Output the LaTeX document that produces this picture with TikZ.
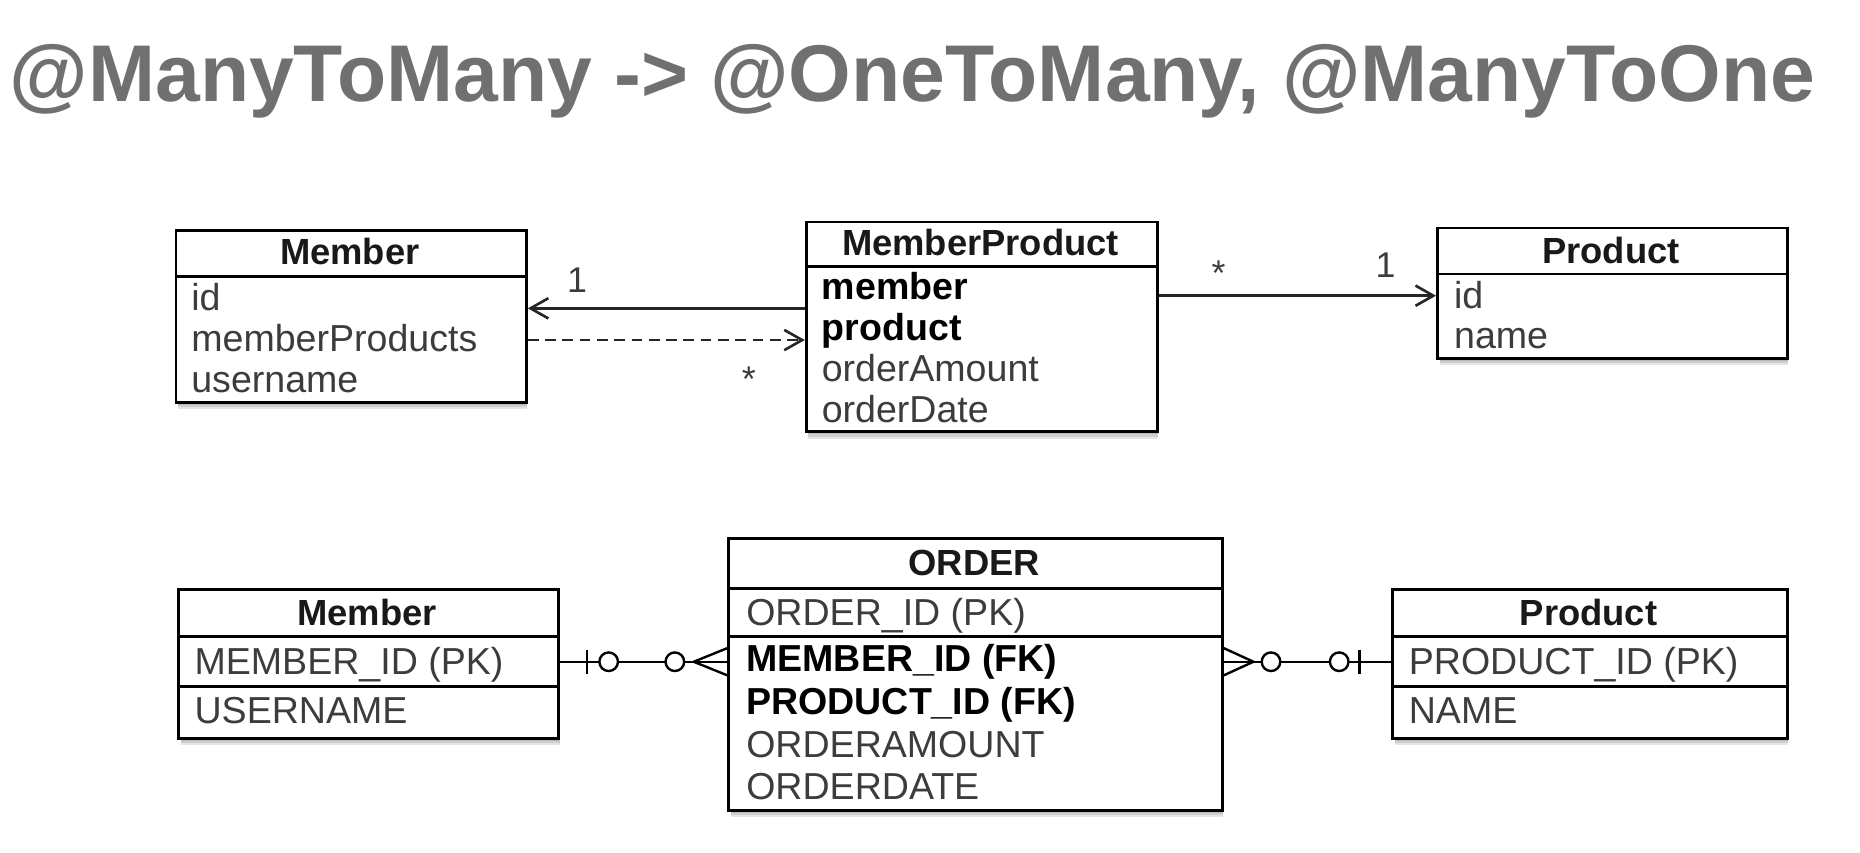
\documentclass[tikz,border=0pt]{standalone}
\usepackage{fontspec}
\setmainfont{Liberation Sans}
\usetikzlibrary{arrows.meta}
\definecolor{titlegray}{RGB}{112,112,112}
\definecolor{rowgray}{RGB}{60,60,60}
\newcommand{\softshadow}[4]{%
  \foreach \k in {1,2,3,4}{%
    \fill[black,opacity=0.1] (#1+3,#4-2) rectangle (#3+2,#4+1.7*\k);
  }}
\begin{document}
\begin{tikzpicture}[x=1pt,y=-1pt,
  box/.style={draw=black, line width=2.4pt, fill=white, inner sep=0pt, anchor=north west},
  divline/.style={draw=black, line width=2.4pt},
  hdr/.style={font=\bfseries\fontsize{30.5}{36}\selectfont, text=black!90, inner sep=0pt, anchor=base},
  row/.style={font=\fontsize{31.5}{36}\selectfont, text=rowgray, inner sep=0pt, anchor=base west},
  brow/.style={font=\bfseries\fontsize{31.5}{36}\selectfont, text=black, inner sep=0pt, anchor=base west},
  lbl/.style={font=\fontsize{30}{36}\selectfont, text=rowgray, inner sep=0pt},
  assoc/.style={draw=black!85, line width=2.2pt, -{Straight Barb[length=15pt,width=17pt]}},
  dep/.style={assoc, dash pattern=on 9pt off 5.5pt},
  er/.style={draw=black, line width=2pt},
  ercirc/.style={draw=black, line width=2pt, fill=white}
]
\useasboundingbox (0,0) rectangle (1560,714.6);

% title
\node[anchor=base west, inner sep=0pt, text=titlegray,
      font=\bfseries\fontsize{67.5}{70}\selectfont] (title) at (8,85.3)
      {@ManyToMany -> @OneToMany, @ManyToOne};

% shadows
\softshadow{146.4}{192.3}{440.3}{336.3}
\softshadow{675}{185}{969.5}{361}
\softshadow{1204.4}{190}{1498}{299.2}
\softshadow{148.4}{493.4}{467.4}{617.9}
\softshadow{610}{450.7}{1024}{678.8}
\softshadow{1166.7}{492.9}{1498}{618}

% ---------- top: classes ----------
\node[box, minimum width=293.9pt, minimum height=144pt] (m1) at (146.4,192.3) {};
\draw[divline] (m1.west |- 0,232) -- (m1.east |- 0,232);
\node[hdr] (m1h) at (293.4,222) {Member};
\node[row] (m1r1) at (160.3,260) {id};
\node[row] (m1r2) at (160.3,294.5) {memberProducts};
\node[row] (m1r3) at (160.3,329) {username};

\node[box, minimum width=294.5pt, minimum height=176pt] (m2) at (675,185) {};
\draw[divline] (m2.west |- 0,223.7) -- (m2.east |- 0,223.7);
\node[hdr] (m2h) at (822.3,213.9) {MemberProduct};
\node[brow] (m2r1) at (689,251.5) {member};
\node[brow] (m2r2) at (689,285.5) {product};
\node[row] (m2r3) at (689,320) {orderAmount};
\node[row] (m2r4) at (689,354) {orderDate};

\node[box, minimum width=293.6pt, minimum height=109.2pt] (m3) at (1204.4,190) {};
\draw[divline] (m3.west |- 0,229.8) -- (m3.east |- 0,229.8);
\node[hdr] (m3h) at (1351.2,220.9) {Product};
\node[row] (m3r1) at (1219.4,258.6) {id};
\node[row] (m3r2) at (1219.4,292.2) {name};

% top connectors
\draw[assoc] (m2.west |- 0,258.6) -- (m1.east |- 0,258.6);
\draw[dep] (m1.east |- 0,285.2) -- (m2.west |- 0,285.2);
\draw[assoc] (m2.east |- 0,248) -- (m3.west |- 0,248);
\node[lbl] (l1) at (484,235) {1};
\node[lbl] (l2) at (628,318) {*};
\node[lbl] (l3) at (1022,229) {*};
\node[lbl] (l4) at (1162,222.3) {1};

% ---------- bottom: tables ----------
\node[box, minimum width=319pt, minimum height=124.5pt] (b1) at (148.4,493.4) {};
\draw[divline] (b1.west |- 0,534) -- (b1.east |- 0,534);
\draw[divline] (b1.west |- 0,575.9) -- (b1.east |- 0,575.9);
\node[hdr] (b1h) at (307.9,524.2) {Member};
\node[row] (b1r1) at (163,566.1) {MEMBER\_ID (PK)};
\node[row] (b1r2) at (163,607.2) {USERNAME};

\node[box, minimum width=414pt, minimum height=228.1pt] (b2) at (610,450.7) {};
\draw[divline] (b2.west |- 0,493.4) -- (b2.east |- 0,493.4);
\draw[divline] (b2.west |- 0,534) -- (b2.east |- 0,534);
\node[hdr] (b2h) at (817,482.3) {ORDER};
\node[row] (b2r1) at (625.7,524.2) {ORDER\_ID (PK)};
\node[brow] (b2r2) at (625.7,563.3) {MEMBER\_ID (FK)};
\node[brow] (b2r3) at (625.7,599.5) {PRODUCT\_ID (FK)};
\node[row] (b2r4) at (625.7,635) {ORDERAMOUNT};
\node[row] (b2r5) at (625.7,670.4) {ORDERDATE};

\node[box, minimum width=331.3pt, minimum height=125pt] (b3) at (1166.7,492.9) {};
\draw[divline] (b3.west |- 0,534) -- (b3.east |- 0,534);
\draw[divline] (b3.west |- 0,576) -- (b3.east |- 0,576);
\node[hdr] (b3h) at (1332.3,524.2) {Product};
\node[row] (b3r1) at (1181.4,566.1) {PRODUCT\_ID (PK)};
\node[row] (b3r2) at (1181.4,607.2) {NAME};

% left ER connector
\draw[er] (b1.east |- 0,555) -- (b2.west |- 0,555);
\draw[er] (492.4,545) -- (492.4,565);
\draw[ercirc] (510.5,555) circle (7.8);
\draw[ercirc] (566,555) circle (7.8);
\draw[er] (581.8,555) -- (b2.west |- 0,543.6);
\draw[er] (581.8,555) -- (b2.west |- 0,566.4);

% right ER connector
\draw[er] (b2.east |- 0,555) -- (b3.west |- 0,555);
\draw[er] (1051.3,555) -- (b2.east |- 0,543.6);
\draw[er] (1051.3,555) -- (b2.east |- 0,566.4);
\draw[ercirc] (1066,555) circle (7.8);
\draw[ercirc] (1123.2,555) circle (7.8);
\draw[er] (1140.3,545) -- (1140.3,565);
\end{tikzpicture}
\end{document}
